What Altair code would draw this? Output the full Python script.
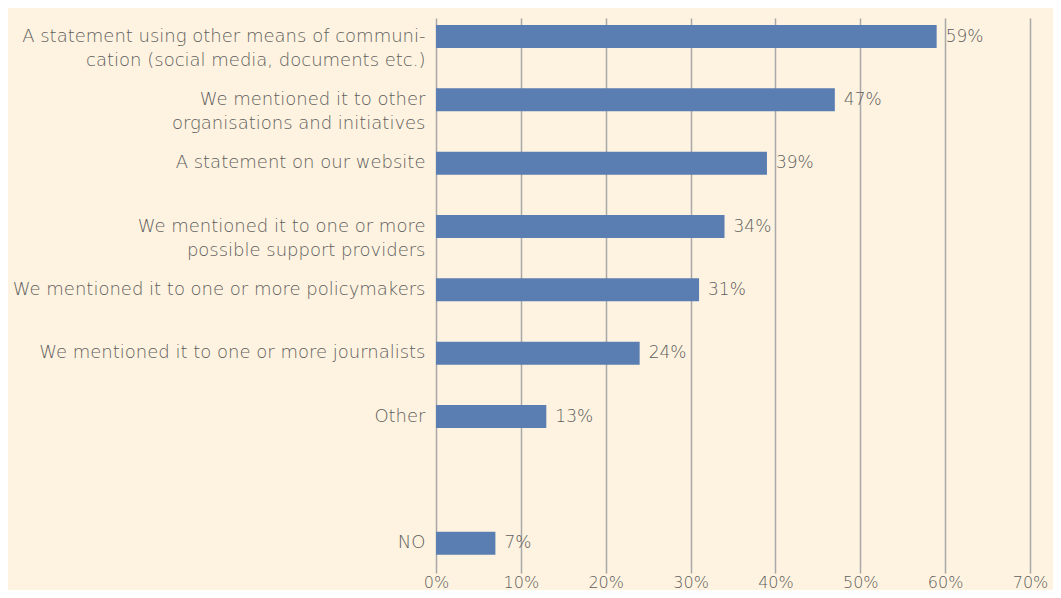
import altair as alt
import pandas as pd

categories = [
    "A statement using other means of communi-|cation (social media, documents etc.)",
    "We mentioned it to other|organisations and initiatives",
    "A statement on our website",
    "We mentioned it to one or more|possible support providers",
    "We mentioned it to one or more policymakers",
    "We mentioned it to one or more journalists",
    "Other",
    "NO",
]
values = [59, 47, 39, 34, 31, 24, 13, 7]
domain_order = categories[:7] + [" "] + categories[7:]
x_ticks = [0, 10, 20, 30, 40, 50, 60, 70]

df = pd.DataFrame({"cat": categories, "val": values})
df["lab"] = df["val"].astype(str) + "%"

FONT = "DejaVu Sans"
TXT = "#5e5e5e"
BAR = "#5a7db2"
BG = "#fef3e0"

y_enc = alt.Y(
    "cat:N",
    sort=domain_order,
    scale=alt.Scale(domain=domain_order, paddingInner=0.637, paddingOuter=0.2, align=0.277),
    axis=alt.Axis(
        title=None, domain=False, ticks=False, labelPadding=11,
        labelFont=FONT, labelFontSize=18, labelColor=TXT, labelFontWeight=200,
        labelExpr="split(datum.label, '|')", labelLineHeight=24, labelLimit=500,
        labelAlign="right",
    ),
)

bars = alt.Chart(df).mark_bar(color=BAR).encode(
    x=alt.X(
        "val:Q",
        scale=alt.Scale(domain=[0, 70], nice=False),
        axis=alt.Axis(
            title=None, values=x_ticks, labelExpr="datum.value + '%'",
            domain=False, ticks=False, grid=True, gridColor="#a8a8a8", gridWidth=1.5,
            labelFont=FONT, labelFontSize=16, labelColor=TXT, labelFontWeight=200,
            labelPadding=1, labelFlush=False, labelOverlap=False,
        ),
    ),
    y=y_enc,
)

labels = alt.Chart(df).mark_text(
    align="left", baseline="middle", dx=9, font=FONT, fontSize=17, fontWeight=200, color=TXT
).encode(
    x="val:Q",
    y=alt.Y("cat:N", sort=domain_order),
    text="lab:N",
)

chart = (
    alt.layer(bars, labels)
    .properties(
        width=594, height=555, background=BG,
        autosize=alt.AutoSizeParams(type="none"),
        padding={"left": 428, "top": 10, "right": 23, "bottom": 17},
    )
    .configure_view(stroke=None)
)

chart.save("out.html", embed_options={"renderer": "svg", "actions": False})
